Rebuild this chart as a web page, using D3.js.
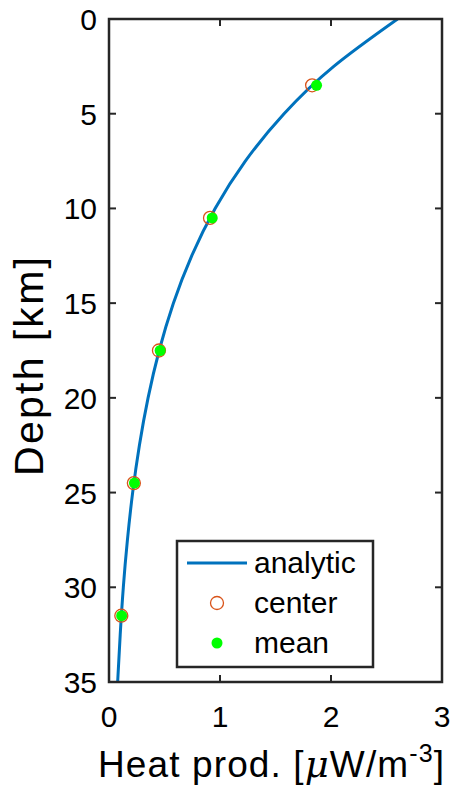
<!DOCTYPE html>
<html><head><meta charset="utf-8">
<script src="https://cdn.jsdelivr.net/npm/d3@7"></script>
<style>body{margin:0;background:#fff}svg{display:block}text{font-family:"Liberation Sans",Arial,Helvetica,sans-serif;fill:#000}</style>
</head><body><svg id="c" width="456" height="797"></svg>
<script>
// analytic curve samples (depth km, heat production µW/m^3)
const curveDepth = [0,2.5,5,7.5,10,12.5,15,17.5,20,22.5,25,27.5,30,32.5,35];
const curveHeat  = [2.60,2.025,1.577,1.228,0.956,0.745,0.580,0.452,0.352,0.274,0.213,0.166,0.129,0.101,0.078];
// layer centers
const pointDepth = [3.5,10.5,17.5,24.5,31.5];
const centerHeat = [1.83,0.91,0.45,0.224,0.111];
const meanHeat   = [1.87,0.93,0.461,0.229,0.114];
const xTicks = [0,1,2,3];
const yTicks = [0,5,10,15,20,25,30,35];
const legendLabels = ["analytic","center","mean"];

const svg = d3.select("#c");
const L=109, R=442, T=19, B=682;
const x = d3.scaleLinear().domain([0,3]).range([L,R]);
const y = d3.scaleLinear().domain([0,35]).range([T,B]);
const axisCol="#262626";

svg.append("clipPath").attr("id","clip").append("rect").attr("x",L).attr("y",T).attr("width",R-L).attr("height",B-T);

const line = d3.line().x(d=>x(d[1])).y(d=>y(d[0])).curve(d3.curveNatural);
svg.append("path").datum(curveDepth.map((d,i)=>[d,curveHeat[i]]))
  .attr("d",line).attr("fill","none").attr("stroke","#0072BD").attr("stroke-width",3).attr("clip-path","url(#clip)");

svg.selectAll(".ctr").data(pointDepth).join("circle")
  .attr("cx",(d,i)=>x(centerHeat[i])).attr("cy",d=>y(d)).attr("r",6.5)
  .attr("fill","none").attr("stroke","#D95319").attr("stroke-width",1.3);
svg.selectAll(".mn").data(pointDepth).join("circle")
  .attr("cx",(d,i)=>x(meanHeat[i])).attr("cy",d=>y(d)).attr("r",5.5)
  .attr("fill","#00FF00");

// frame
const tl=7;
const g = svg.append("g").attr("stroke",axisCol).attr("stroke-width",2);
xTicks.forEach(t=>{
  g.append("line").attr("x1",x(t)).attr("x2",x(t)).attr("y1",B).attr("y2",B-tl);
  g.append("line").attr("x1",x(t)).attr("x2",x(t)).attr("y1",T).attr("y2",T+tl);
});
yTicks.forEach(t=>{
  g.append("line").attr("y1",y(t)).attr("y2",y(t)).attr("x1",L).attr("x2",L+tl);
  g.append("line").attr("y1",y(t)).attr("y2",y(t)).attr("x1",R).attr("x2",R-tl);
});
svg.append("rect").attr("x",L).attr("y",T).attr("width",R-L).attr("height",B-T)
  .attr("fill","none").attr("stroke",axisCol).attr("stroke-width",2.5);

svg.selectAll(".xt").data(xTicks).join("text")
  .attr("x",d=>x(d)).attr("y",727).attr("text-anchor","middle").attr("font-size",30).text(d=>d);
svg.selectAll(".yt").data(yTicks).join("text")
  .attr("x",97).attr("y",d=>y(d)+11).attr("text-anchor","end").attr("font-size",30).text(d=>d);

const xl = svg.append("text").attr("x",98).attr("y",777).attr("font-size",37)
  .attr("textLength",346).attr("lengthAdjust","spacing");
xl.append("tspan").text("Heat prod. [");
xl.append("tspan").attr("font-style","italic").attr("font-family","'DejaVu Serif',serif").text("μ");
xl.append("tspan").text("W/m");
xl.append("tspan").attr("font-size",25).attr("dy",-15).text("-3");
xl.append("tspan").attr("dy",15).text("]");

svg.append("text").attr("transform","translate(43,476) rotate(-90)")
  .attr("font-size",41).attr("textLength",219).attr("lengthAdjust","spacing").text("Depth [km]");

// legend
const lg = svg.append("g");
lg.append("rect").attr("x",177).attr("y",541).attr("width",196).attr("height",126)
  .attr("fill","#fff").attr("stroke",axisCol).attr("stroke-width",2.5);
const rows=[563,603,643];
lg.append("line").attr("x1",187).attr("x2",247).attr("y1",rows[0]).attr("y2",rows[0]).attr("stroke","#0072BD").attr("stroke-width",3);
lg.append("circle").attr("cx",217).attr("cy",rows[1]).attr("r",6.5).attr("fill","none").attr("stroke","#D95319").attr("stroke-width",1.3);
lg.append("circle").attr("cx",217).attr("cy",rows[2]).attr("r",5.5).attr("fill","#00FF00");
lg.selectAll(".lt").data(legendLabels).join("text")
  .attr("x",254).attr("y",(d,i)=>rows[i]+10).attr("font-size",30).text(d=>d);
</script></body></html>
